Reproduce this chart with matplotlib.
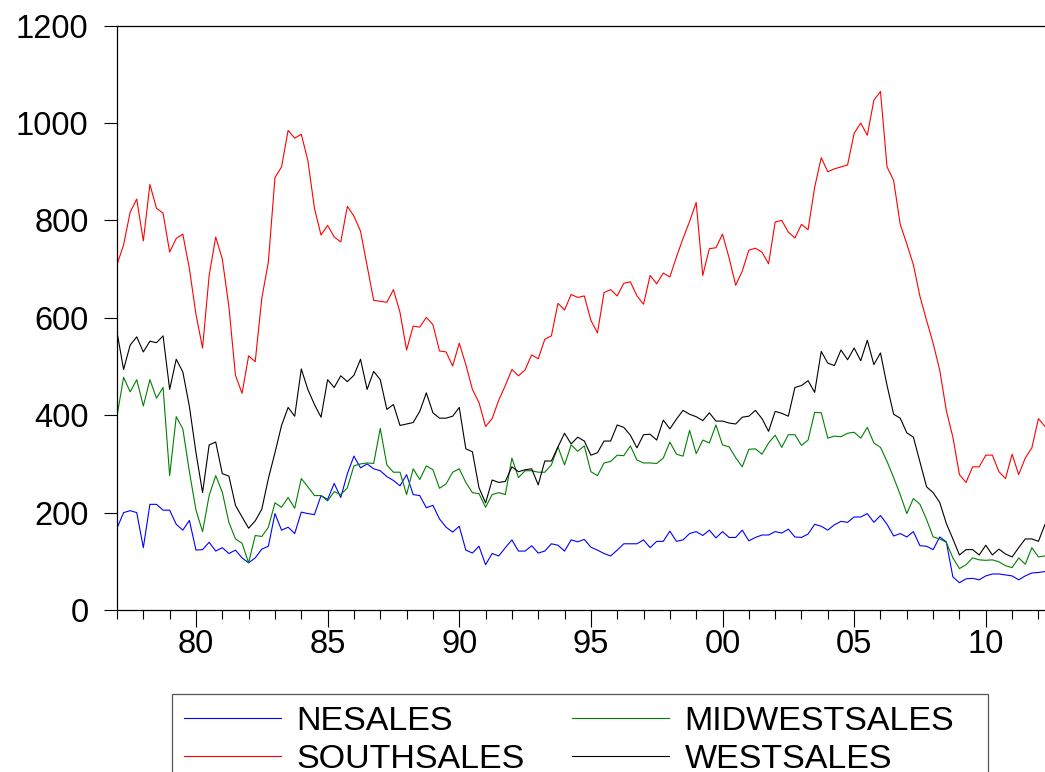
import numpy as np
import matplotlib.pyplot as plt
from matplotlib.patches import Rectangle
from matplotlib.ticker import MultipleLocator, FixedLocator

plt.rcParams['font.family'] = ['Liberation Sans', 'DejaVu Sans']

# quarterly data, 1977Q1 onwards (thousands)
start_year = 1977

ne_sales = [
    168, 200, 204, 200, 128, 217, 217, 205, 205, 176, 164, 184,
    123, 124, 139, 121, 128, 116, 123, 107, 97, 107, 125, 131,
    198, 164, 170, 157, 201, 198, 196, 235, 227, 260, 231, 280,
    316, 292, 300, 290, 286, 274, 266, 255, 278, 237, 235, 210,
    215, 187, 170, 160, 172, 123, 117, 131, 93, 116, 111, 128,
    144, 121, 121, 132, 117, 121, 136, 133, 121, 144, 140, 145,
    129, 123, 116, 111, 123, 136, 136, 136, 144, 128, 141, 141,
    162, 141, 144, 157, 161, 153, 164, 148, 161, 149, 149, 164,
    142, 149, 154, 154, 161, 158, 166, 150, 149, 156, 176, 172,
    164, 175, 182, 180, 191, 191, 198, 180, 194, 176, 152, 157,
    150, 161, 132, 131, 124, 150, 140, 68, 56, 64, 65, 62,
    70, 74, 74, 72, 70, 62, 70, 76, 77, 79,
]

midwest_sales = [
    398, 478, 448, 473, 419, 473, 435, 457, 276, 397, 372, 284,
    205, 161, 235, 276, 242, 180, 146, 137, 97, 153, 151, 170,
    220, 211, 231, 209, 270, 253, 235, 235, 224, 243, 237, 251,
    296, 300, 302, 301, 373, 298, 283, 283, 237, 290, 268, 296,
    288, 250, 259, 283, 290, 262, 241, 239, 211, 237, 241, 237,
    312, 272, 286, 286, 283, 283, 298, 335, 298, 339, 326, 337,
    284, 276, 302, 305, 318, 317, 337, 308, 302, 302, 301, 312,
    345, 320, 316, 369, 321, 349, 343, 380, 339, 335, 313, 294,
    330, 331, 320, 343, 359, 334, 360, 360, 338, 349, 406, 405,
    353, 357, 356, 363, 365, 353, 375, 343, 334, 305, 272, 237,
    198, 229, 217, 186, 150, 146, 139, 107, 85, 93, 107, 103,
    102, 103, 99, 91, 87, 107, 94, 128, 109, 111,
]

south_sales = [
    709, 750, 817, 844, 758, 874, 825, 815, 735, 763, 772, 701,
    607, 538, 687, 766, 721, 623, 482, 445, 522, 510, 640, 715,
    888, 910, 985, 969, 977, 923, 825, 770, 790, 766, 756, 829,
    809, 778, 707, 636, 634, 632, 658, 611, 534, 583, 581, 601,
    586, 532, 530, 501, 548, 504, 453, 426, 377, 393, 431, 461,
    494, 481, 493, 524, 516, 556, 563, 630, 616, 648, 642, 645,
    595, 569, 652, 658, 645, 671, 674, 645, 628, 687, 670, 692,
    684, 725, 763, 798, 837, 687, 742, 744, 772, 723, 667, 696,
    739, 743, 735, 711, 797, 800, 776, 764, 792, 781, 868, 929,
    900, 906, 910, 914, 979, 1000, 975, 1047, 1065, 910, 882, 792,
    752, 709, 644, 595, 548, 493, 410, 355, 278, 262, 294, 294,
    318, 318, 284, 270, 320, 278, 312, 333, 393, 377,
]

west_sales = [
    571, 494, 544, 561, 530, 552, 549, 563, 453, 515, 489, 418,
    323, 241, 339, 345, 280, 275, 215, 191, 168, 183, 207, 270,
    323, 379, 416, 398, 495, 453, 422, 396, 473, 457, 481, 469,
    482, 515, 453, 490, 473, 412, 422, 379, 382, 385, 408, 446,
    405, 394, 394, 398, 416, 331, 325, 251, 220, 267, 262, 264,
    294, 284, 288, 290, 257, 306, 306, 335, 363, 341, 355, 347,
    318, 323, 347, 347, 380, 375, 359, 333, 360, 361, 349, 390,
    372, 392, 410, 402, 397, 389, 405, 388, 388, 384, 382, 396,
    398, 410, 393, 367, 408, 404, 398, 457, 461, 471, 447, 531,
    507, 502, 534, 514, 538, 512, 554, 504, 528, 461, 402, 394,
    364, 355, 304, 253, 241, 221, 178, 146, 113, 124, 124, 113,
    133, 113, 125, 115, 109, 128, 146, 146, 141, 176,
]

series_names = ['NESALES', 'SOUTHSALES', 'MIDWESTSALES', 'WESTSALES']
series_colors = ['#0000FF', '#FF0000', '#008000', '#000000']
major_years = [1980, 1985, 1990, 1995, 2000, 2005, 2010]
major_labels = ['80', '85', '90', '95', '00', '05', '10']

t = start_year + np.arange(len(ne_sales)) / 4.0

# ============================
# Figure
# ============================
W, H = 1045, 772
fig = plt.figure(figsize=(W / 100, H / 100), dpi=100)
ax = fig.add_axes([117 / W, 162 / H, 929 / W, 584.3 / H])

lines = []
for name, vals, c in zip(series_names,
                         [ne_sales, south_sales, midwest_sales, west_sales],
                         series_colors):
    ln, = ax.plot(t, vals, color=c, lw=0.8, label=name)
    lines.append(ln)

ax.set_xlim(start_year, start_year + 141.15 / 4)
ax.set_ylim(0, 1200)
ax.yaxis.set_major_locator(MultipleLocator(200))
ax.xaxis.set_major_locator(FixedLocator(major_years))
ax.set_xticklabels(major_labels)
ax.xaxis.set_minor_locator(MultipleLocator(1))

ax.spines['right'].set_visible(False)
for s in ['left', 'top', 'bottom']:
    ax.spines[s].set_linewidth(0.9)

ax.tick_params(axis='y', which='major', direction='out', length=9.5,
               width=0.8, pad=11, labelsize=23.5)
ax.tick_params(axis='x', which='major', direction='out', length=12,
               width=0.8, pad=2, labelsize=23.5)
ax.tick_params(axis='x', which='minor', direction='out', length=6.7,
               width=0.8)

# legend order: row 1 NE / MIDWEST, row 2 SOUTH / WEST
leg = fig.legend(lines, series_names, ncol=2, loc='upper left',
                 bbox_to_anchor=(172 / W, 1 - 694 / H),
                 borderaxespad=0, fontsize=24.5,
                 handlelength=2.85, handletextpad=0.45,
                 columnspacing=1.4, labelspacing=0.22, borderpad=0.35,
                 frameon=False)

# legend frame (runs past the bottom edge, as in the original)
fig.patches.append(Rectangle((172 / W, -0.05), 816 / W, 0.05 + 78 / H,
                             transform=fig.transFigure, fill=False,
                             edgecolor='#555555', linewidth=0.9))

fig.savefig('out.png', dpi=100)
